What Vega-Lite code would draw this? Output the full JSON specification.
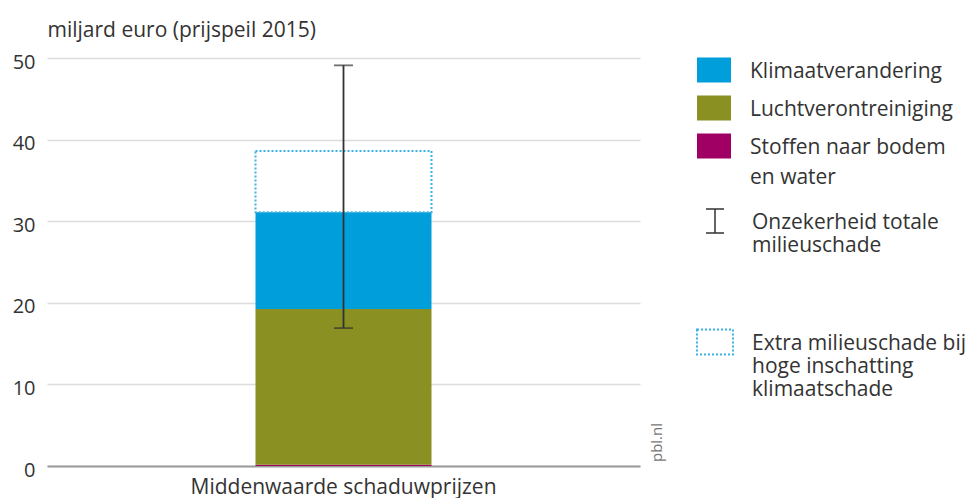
{
  "$schema": "https://vega.github.io/schema/vega-lite/v6.json",
  "width": 593,
  "height": 408,
  "autosize": {"type": "none"},
  "padding": {"left": 47, "top": 58, "right": 332, "bottom": 32},
  "background": "white",
  "config": {
    "view": {"stroke": null},
    "font": "Open Sans",
    "axis": {"labelColor": "#333", "titleColor": "#333", "titleFontWeight": "normal"}
  },
  "datasets": {
    "schade": [
      {"reeks": "Middenwaarde schaduwprijzen", "categorie": "Stoffen naar bodem en water", "waarde": 0.15, "stapel": 1},
      {"reeks": "Middenwaarde schaduwprijzen", "categorie": "Luchtverontreiniging", "waarde": 19.1, "stapel": 2},
      {"reeks": "Middenwaarde schaduwprijzen", "categorie": "Klimaatverandering", "waarde": 11.85, "stapel": 3}
    ],
    "extra": [
      {"reeks": "Middenwaarde schaduwprijzen", "laag": 31.1, "hoog": 38.6, "extra": "Extra milieuschade bij hoge inschatting klimaatschade"}
    ],
    "onzekerheid": [
      {"reeks": "Middenwaarde schaduwprijzen", "laag": 16.9, "hoog": 49.1, "onzeker": "Onzekerheid totale milieuschade"}
    ]
  },
  "layer": [
    {
      "data": {"name": "schade"},
      "mark": {"type": "bar", "width": 176},
      "encoding": {
        "x": {
          "field": "reeks", "type": "nominal",
          "axis": {"title": null, "labelAngle": 0, "labelFontSize": 21, "labelColor": "#333", "labelLimit": 500, "ticks": false, "domainColor": "#9a9a9a", "domainWidth": 2, "labelPadding": 10, "labelBaseline": "top"}
        },
        "y": {
          "field": "waarde", "type": "quantitative", "stack": "zero",
          "scale": {"domain": [0, 50], "nice": false},
          "axis": {
            "title": "miljard euro (prijspeil 2015)", "titleAngle": 0, "titleAlign": "left", "titleX": 0, "titleY": -28,
            "titleBaseline": "middle", "titleFontSize": 21,
            "values": [0, 10, 20, 30, 40, 50], "labelFontSize": 20, "labelPadding": 12, "labelOffset": 4,
            "ticks": false, "domain": false, "grid": true, "gridColor": "#dcdcdc", "gridWidth": 1.5
          }
        },
        "color": {
          "field": "categorie", "type": "nominal",
          "scale": {
            "domain": ["Klimaatverandering", "Luchtverontreiniging", "Stoffen naar bodem en water"],
            "range": ["#009edb", "#8a9021", "#a00064"]
          },
          "legend": {
            "orient": "none", "legendX": 650, "legendY": -5, "title": null,
            "symbolType": "M-1,-0.735H1V0.735H-1Z", "symbolSize": 1156, "symbolStrokeWidth": 0,
            "labelFontSize": 21, "labelColor": "#333", "labelLimit": 400, "labelOffset": 19, "rowPadding": 8,
            "labelBaseline": "top",
            "labelExpr": "datum.label == 'Stoffen naar bodem en water' ? ['Stoffen naar bodem', 'en water'] : datum.label",
            "encode": {"labels": {"update": {"dy": {"value": -9}, "lineHeight": {"value": 30}}}}
          }
        },
        "order": {"field": "stapel", "type": "quantitative"}
      }
    },
    {
      "data": {"name": "extra"},
      "mark": {"type": "bar", "width": 176, "fill": "transparent", "stroke": "#3cb2e4", "strokeWidth": 2},
      "encoding": {
        "x": {"field": "reeks", "type": "nominal"},
        "y": {
          "field": "laag", "type": "quantitative", "scale": {"domain": [0, 50], "nice": false},
          "axis": {
            "orient": "right", "title": "pbl.nl", "labels": false, "ticks": false, "domain": false, "grid": false,
            "titleAngle": 270, "titleX": 16, "titleY": 384, "titleFontSize": 15, "titleColor": "#777",
            "titleAlign": "center", "titleBaseline": "middle"
          }
        },
        "y2": {"field": "hoog"},
        "strokeDash": {
          "field": "extra", "type": "nominal",
          "scale": {"domain": ["Extra milieuschade bij hoge inschatting klimaatschade"], "range": [[2, 2]]},
          "legend": {
            "orient": "none", "legendX": 649, "legendY": 256, "title": null,
            "symbolType": "M-1,-0.194H1V1.194H-1Z", "symbolSize": 1296, "symbolFillColor": "transparent",
            "symbolStrokeColor": "#3cb2e4", "symbolStrokeWidth": 2, "symbolOpacity": 1,
            "labelFontSize": 21, "labelColor": "#333", "labelLimit": 400, "labelOffset": 18,
            "labelBaseline": "top",
            "labelExpr": "datum.label == 'Extra milieuschade bij hoge inschatting klimaatschade' ? ['Extra milieuschade bij', 'hoge inschatting', 'klimaatschade'] : datum.label"
          }
        }
      }
    },
    {
      "data": {"name": "onzekerheid"},
      "mark": {"type": "errorbar", "color": "#333", "thickness": 1.8, "ticks": {"size": 19}},
      "encoding": {
        "x": {"field": "reeks", "type": "nominal"},
        "y": {"field": "laag", "type": "quantitative", "scale": {"domain": [0, 50], "nice": false}, "axis": null},
        "y2": {"field": "hoog"}
      }
    },
    {
      "data": {"name": "onzekerheid"},
      "mark": {"type": "point", "opacity": 0, "filled": false, "color": "#333"},
      "encoding": {
        "x": {"field": "reeks", "type": "nominal"},
        "y": {"field": "laag", "type": "quantitative", "scale": {"domain": [0, 50], "nice": false}, "axis": null},
        "shape": {
          "field": "onzeker", "type": "nominal",
          "scale": {"domain": ["Onzekerheid totale milieuschade"], "range": ["M-0.75,-0.25H0.75M0,-0.25V1.75M-0.75,1.75H0.75"]},
          "legend": {
            "orient": "none", "legendX": 655, "legendY": 141, "title": null,
            "symbolSize": 576, "symbolFillColor": "transparent", "symbolStrokeColor": "#333",
            "symbolStrokeWidth": 1.5, "symbolOpacity": 1,
            "labelFontSize": 21, "labelColor": "#333", "labelLimit": 400, "labelOffset": 24,
            "labelBaseline": "top",
            "labelExpr": "datum.label == 'Onzekerheid totale milieuschade' ? ['Onzekerheid totale', 'milieuschade'] : datum.label"
          }
        }
      }
    }
  ],
  "resolve": {"axis": {"y": "independent"}}
}
